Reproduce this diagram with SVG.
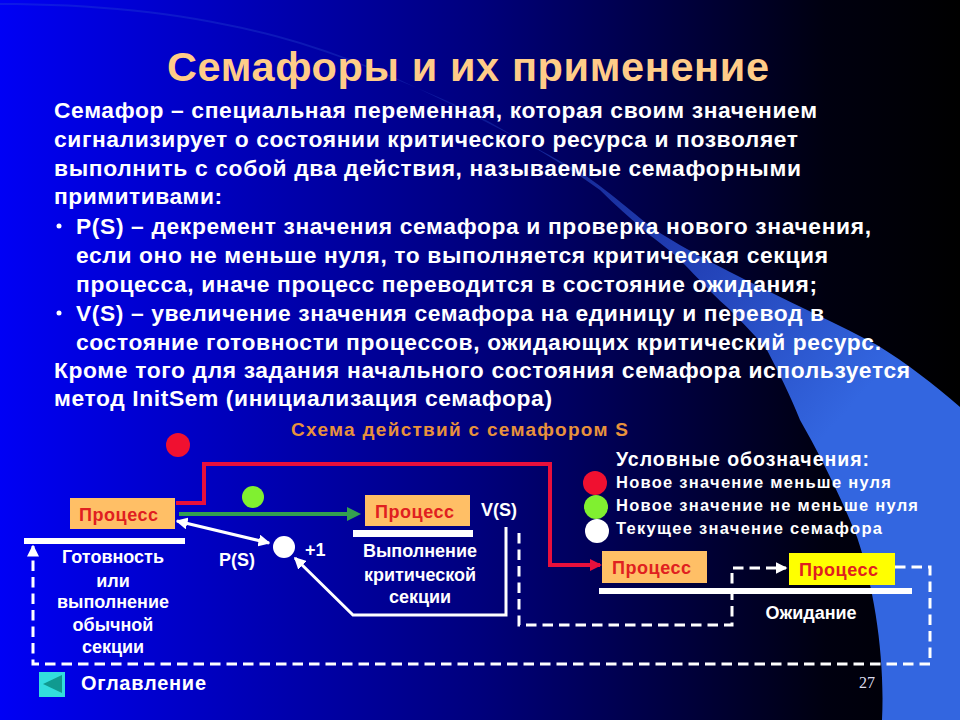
<svg xmlns="http://www.w3.org/2000/svg" width="960" height="720" viewBox="0 0 960 720">
<style>
text{font-family:"Liberation Sans",Arial,sans-serif;font-weight:700;fill:#fff}
.b{font-size:22.8px}
.m{font-size:18px;text-anchor:middle}
.p{font-size:18px;fill:#e02020}
.l{font-size:16.5px}
.box{fill:#ffbf66}
.bar{fill:#fff}
.d{fill:none;stroke:#fff;stroke-width:3;stroke-dasharray:10.5 6}
</style>
<defs>
<linearGradient id="bg" x1="0" y1="0" x2="1" y2="0"><stop offset="0" stop-color="#0000f5"/><stop offset=".5" stop-color="#00007c"/><stop offset=".86" stop-color="#000010"/><stop offset="1" stop-color="#000"/></linearGradient>
<linearGradient id="sw" gradientUnits="userSpaceOnUse" x1="480" y1="120" x2="830" y2="430"><stop offset="0" stop-color="#2a50d0" stop-opacity=".3"/><stop offset=".5" stop-color="#2444c0" stop-opacity=".9"/><stop offset="1" stop-color="#3366e0"/></linearGradient>
<marker id="aw" markerWidth="4" markerHeight="4" refX="3.5" refY="2" orient="auto-start-reverse"><path d="M0 0L4 2L0 4Z" fill="#fff"/></marker>
<marker id="ag" markerWidth="3.5" markerHeight="3.5" refX="2.5" refY="1.75" orient="auto"><path d="M0 0L3.5 1.75L0 3.5Z" fill="#33a050"/></marker>
<marker id="ar" markerWidth="3" markerHeight="3" refX="2.5" refY="1.5" orient="auto"><path d="M0 0L3 1.5L0 3Z" fill="#e8103c"/></marker>
</defs>
<rect width="960" height="720" fill="url(#bg)"/>
<path d="M0 3C110 3 210 15 300 42C335 53 370 66 400 80C470 112 540 150 580 172C615 195 640 220 660 233C695 255 730 272 760 287C800 307 840 325 877 345C905 362 935 385 960 407V720H882C885 660 875 590 857 537C840 495 820 455 800 420C790 395 780 375 767 350C755 335 740 320 727 307C710 292 697 277 683 263C670 250 660 243 647 233C630 218 615 205 600 190C570 168 530 145 500 128C470 110 430 93 400 81C370 68 335 55 300 44C210 17 110 5 0 5Z" fill="url(#sw)"/>
<g id="heading">
<text x="167" y="81" font-size="41.5" textLength="602" style="fill:#ffcc88">Семафоры и их применение</text>
<g class="b">
<text x="54" y="118" textLength="763">Семафор – специальная переменная, которая своим значением</text>
<text x="54" y="147" textLength="744">сигнализирует о состоянии критического ресурса и позволяет</text>
<text x="54" y="176" textLength="747">выполнить с собой два действия, называемые семафорными</text>
<text x="54" y="204" textLength="168">примитивами:</text>
<circle cx="59" cy="226" r="2.5" fill="#fff"/>
<text x="76" y="234" textLength="795">P(S) – декремент значения семафора и проверка нового значения,</text>
<text x="76" y="263" textLength="752">если оно не меньше нуля, то выполняется критическая секция</text>
<text x="76" y="292" textLength="741">процесса, иначе процесс переводится в состояние ожидания;</text>
<circle cx="59" cy="313" r="2.5" fill="#fff"/>
<text x="76" y="321" textLength="748">V(S) – увеличение значения семафора на единицу и перевод в</text>
<text x="76" y="350" textLength="805">состояние готовности процессов, ожидающих критический ресурс.</text>
<text x="54" y="378" textLength="856">Кроме того для задания начального состояния семафора используется</text>
<text x="54" y="406" textLength="498">метод InitSem (инициализация семафора)</text>
</g>
<text x="291" y="436" font-size="19" textLength="337" style="fill:#e8923c">Схема действий с семафором S</text>
</g>
<g id="connectors">
<path d="M176 503H204V464H550V565H600" fill="none" stroke="#e8103c" stroke-width="4" marker-end="url(#ar)"/>
<path d="M179 514H357" fill="none" stroke="#33a050" stroke-width="4" marker-end="url(#ag)"/>
<path d="M177 521L269 543" fill="none" stroke="#fff" stroke-width="3" marker-start="url(#aw)" marker-end="url(#aw)"/>
<path d="M506 527V615H353L295 558" fill="none" stroke="#fff" stroke-width="3" marker-end="url(#aw)"/>
<path d="M519 533V625H732V568H786" class="d" marker-end="url(#aw)"/>
<path d="M895 567H930V664H33V546" class="d" marker-end="url(#aw)"/>
</g>
<g id="process1"><rect x="70" y="498" width="105" height="31" class="box"/><text x="79" y="521" class="p" textLength="79">Процесс</text></g>
<g id="process2"><rect x="365" y="495" width="105" height="31" class="box"/><text x="375" y="518" class="p" textLength="79">Процесс</text></g>
<g id="process3"><rect x="602" y="551" width="105" height="32" class="box"/><text x="612" y="574" class="p" textLength="79">Процесс</text></g>
<g id="process4"><rect x="789" y="553" width="106" height="32" fill="#ffff00"/><text x="799" y="576" class="p" textLength="79">Процесс</text></g>
<g id="ready"><rect x="24" y="538" width="161" height="6" class="bar"/>
<text x="113" y="563" class="m">Готовность</text><text x="113" y="587" class="m">или</text><text x="113" y="608" class="m">выполнение</text><text x="113" y="631" class="m">обычной</text><text x="113" y="653" class="m">секции</text></g>
<g id="critical"><rect x="353" y="530" width="120" height="7" class="bar"/>
<text x="420" y="557" class="m">Выполнение</text><text x="420" y="581" class="m">критической</text><text x="420" y="603" class="m">секции</text></g>
<g id="waiting"><rect x="599" y="588" width="313" height="6" class="bar"/><text x="811" y="619" class="m">Ожидание</text></g>
<g id="sem-red"><circle cx="178" cy="445" r="12" fill="#f01030"/></g>
<g id="sem-green"><circle cx="253" cy="497" r="11" fill="#80f030"/></g>
<g id="sem-white"><circle cx="284" cy="547" r="11" fill="#fff"/></g>
<g id="labels"><text x="219" y="566" font-size="18">P(S)</text><text x="305" y="556" font-size="18">+1</text><text x="481" y="516" font-size="18">V(S)</text></g>
<g id="legend">
<text x="616" y="466" font-size="19.5" textLength="253">Условные обозначения:</text>
<circle cx="595" cy="483" r="12" fill="#f01030"/><text x="616" y="488" class="l" textLength="275">Новое значение меньше нуля</text>
<circle cx="596" cy="507" r="12" fill="#80f030"/><text x="616" y="511" class="l" textLength="302">Новое значение не меньше нуля</text>
<circle cx="597" cy="531" r="12" fill="#fff"/><text x="616" y="534" class="l" textLength="266">Текущее значение семафора</text>
</g>
<g id="toc"><rect x="39" y="672" width="26" height="25" fill="#33dddd"/><path d="M43 684L62 675V693Z" fill="#109a90"/><text x="81" y="690" font-size="20" textLength="125">Оглавление</text></g>
<text x="859" y="688" font-size="16" style="font-family:'Liberation Serif',serif;font-weight:400;fill:#dde">27</text>
</svg>
